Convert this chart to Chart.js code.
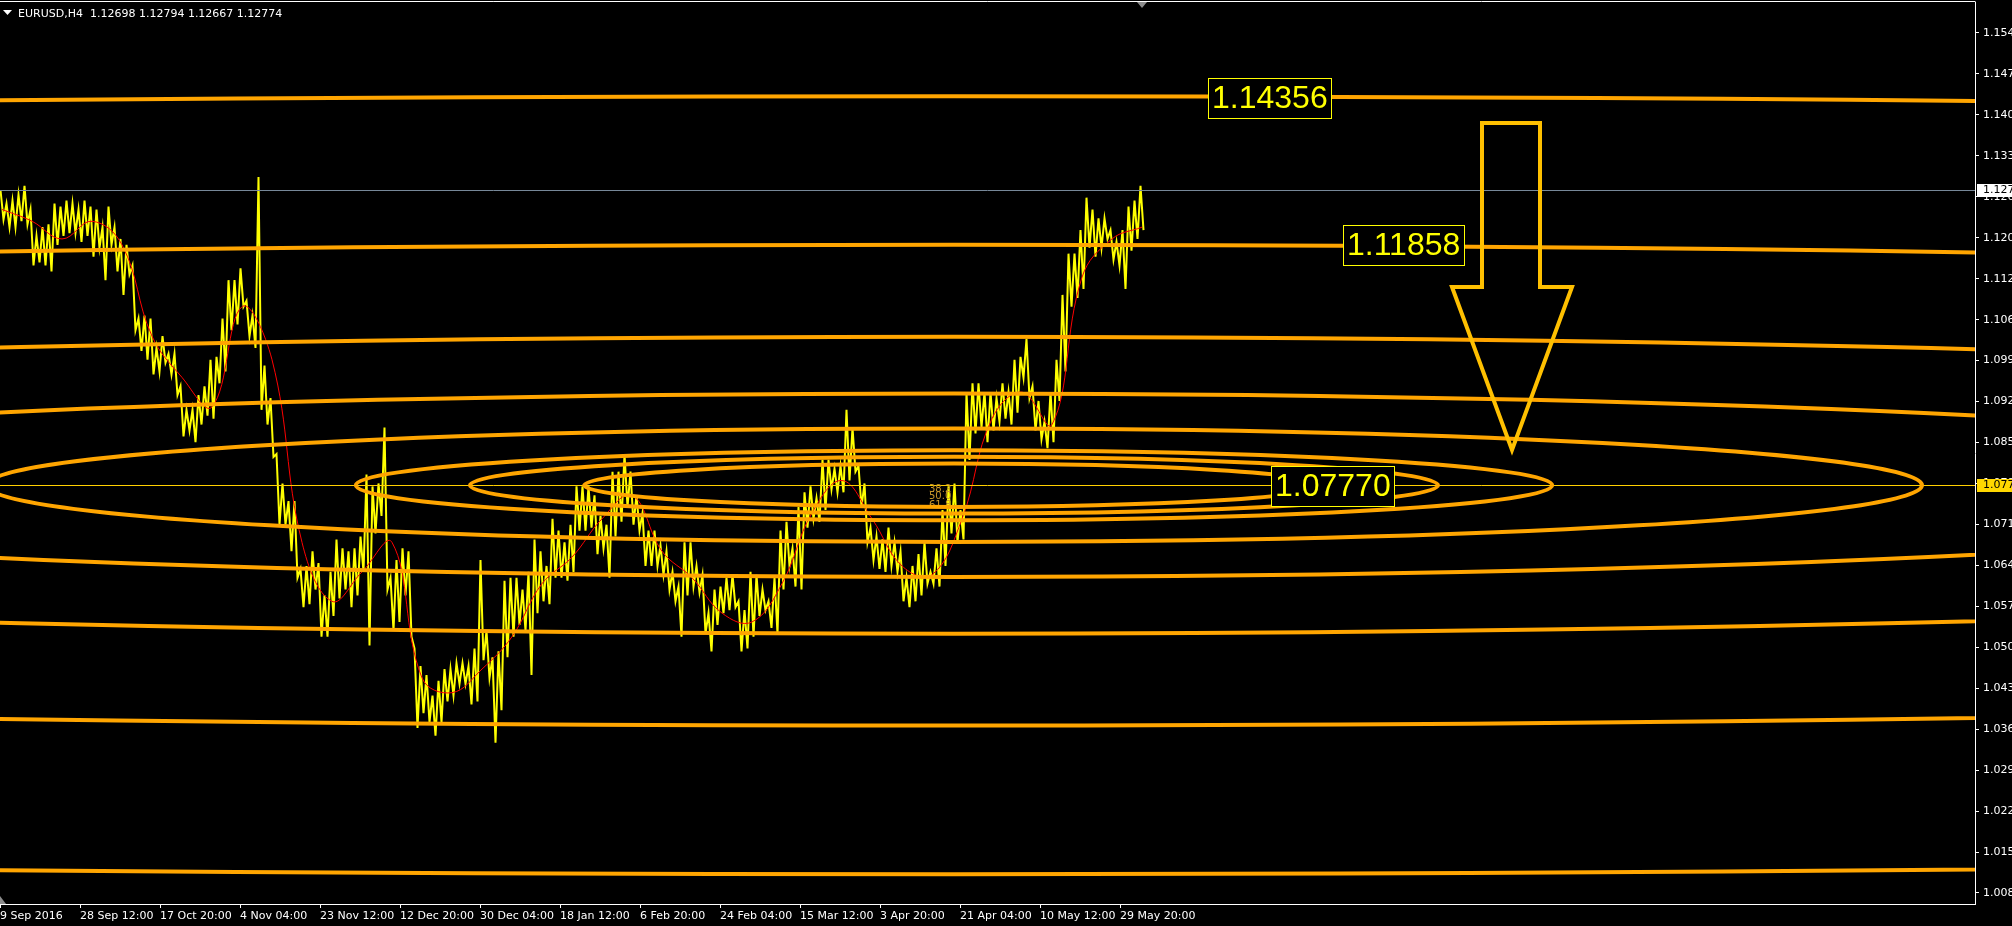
<!DOCTYPE html>
<html><head><meta charset="utf-8">
<script src="https://cdn.jsdelivr.net/npm/chart.js@4.4.0/dist/chart.umd.min.js"></script>
<style>html,body{margin:0;padding:0;background:#000;overflow:hidden}canvas{display:block}</style>
</head><body>
<canvas id="c" width="2012" height="926"></canvas>
<script>
// ---------- data ----------
const titleText = 'EURUSD,H4  1.12698 1.12794 1.12667 1.12774';
const barsPerDay = 6;
// daily high / low (9 Sep 2016 .. 2 Jun 2017), one H4 bar = one bar unit
const dayHigh = [
1.1278,1.1255,1.1260,1.1270,1.1285,1.1245,1.1200,1.1215,1.1220,1.1255,
1.1250,1.1260,1.1255,1.1245,1.1260,1.1250,1.1245,1.1215,1.1250,1.1215,
1.1195,1.1185,1.1150,1.1060,1.1065,1.1060,1.1010,1.1030,1.1000,1.1000,
1.0945,1.0905,1.0905,1.0930,1.0945,1.0990,1.0995,1.1060,1.1125,1.1125,
1.1145,1.1090,1.1065,1.1300,1.0980,1.0925,1.0830,1.0780,1.0750,1.0750,
1.0635,1.0640,1.0665,1.0645,1.0590,1.0630,1.0685,1.0670,1.0665,1.0670,
1.0690,1.0795,1.0775,1.0780,1.0875,1.0620,1.0650,1.0670,1.0665,1.0500,
1.0470,1.0455,1.0420,1.0445,1.0465,1.0465,1.0475,1.0475,1.0470,1.0500,
1.0650,1.0530,1.0485,1.0495,1.0615,1.0620,1.0620,1.0600,1.0630,1.0685,
1.0665,1.0640,1.0720,1.0700,1.0680,1.0710,1.0775,1.0775,1.0775,1.0760,
1.0725,1.0710,1.0800,1.0800,1.0830,1.0800,1.0760,1.0730,1.0700,1.0700,
1.0675,1.0665,1.0630,1.0605,1.0680,1.0680,1.0640,1.0625,1.0560,1.0600,
1.0605,1.0620,1.0625,1.0580,1.0565,1.0630,1.0625,1.0600,1.0580,1.0620,
1.0700,1.0715,1.0670,1.0740,1.0765,1.0775,1.0755,1.0820,1.0820,1.0805,
1.0810,1.0905,1.0875,1.0810,1.0780,1.0705,1.0690,1.0685,1.0705,1.0680,
1.0665,1.0620,1.0640,1.0660,1.0680,1.0630,1.0670,1.0735,1.0775,1.0780,
1.0735,1.0935,1.0950,1.0950,1.0935,1.0935,1.0925,1.0950,1.0935,1.0990,
1.0995,1.1025,1.0945,1.0920,1.0885,1.0935,1.0990,1.1100,1.1170,1.1170,
1.1210,1.1265,1.1245,1.1230,1.1230,1.1210,1.1190,1.1210,1.1250,1.1260,
1.1285];
const dayLow = [
1.1228,1.1215,1.1215,1.1225,1.1220,1.1150,1.1155,1.1150,1.1140,1.1185,
1.1200,1.1205,1.1205,1.1190,1.1200,1.1165,1.1180,1.1125,1.1185,1.1140,
1.1100,1.1135,1.1040,1.1005,1.0990,1.0965,1.0970,1.0985,1.0965,1.0930,
1.0860,1.0870,1.0850,1.0880,1.0895,1.0890,1.0950,1.0970,1.1040,1.1050,
1.1080,1.1030,1.1010,1.0905,1.0880,1.0825,1.0710,1.0710,1.0665,1.0620,
1.0570,1.0575,1.0600,1.0520,1.0520,1.0555,1.0585,1.0600,1.0570,1.0590,
1.0630,1.0505,1.0695,1.0725,1.0600,1.0530,1.0545,1.0590,1.0520,1.0365,
1.0390,1.0375,1.0352,1.0375,1.0410,1.0420,1.0440,1.0440,1.0405,1.0410,
1.0480,1.0450,1.0340,1.0395,1.0485,1.0520,1.0540,1.0530,1.0455,1.0560,
1.0580,1.0575,1.0620,1.0620,1.0615,1.0630,1.0700,1.0700,1.0705,1.0660,
1.0670,1.0620,1.0690,1.0715,1.0740,1.0710,1.0700,1.0640,1.0640,1.0640,
1.0625,1.0600,1.0580,1.0520,1.0590,1.0605,1.0595,1.0525,1.0495,1.0540,
1.0560,1.0565,1.0570,1.0495,1.0500,1.0520,1.0555,1.0565,1.0535,1.0525,
1.0600,1.0640,1.0605,1.0600,1.0705,1.0720,1.0715,1.0735,1.0770,1.0765,
1.0765,1.0785,1.0800,1.0740,1.0680,1.0650,1.0635,1.0630,1.0640,1.0630,
1.0580,1.0570,1.0580,1.0590,1.0610,1.0610,1.0605,1.0640,1.0695,1.0680,
1.0685,1.0820,1.0865,1.0875,1.0850,1.0870,1.0885,1.0890,1.0880,1.0900,
1.0960,1.0925,1.0870,1.0855,1.0840,1.0850,1.0920,1.0970,1.1080,1.1095,
1.1110,1.1180,1.1165,1.1180,1.1195,1.1160,1.1150,1.1110,1.1175,1.1195,
1.1210];
// red moving average, one value every 5 days
const maStepDays = 5;
const maValues = [1.1245,1.1225,1.1195,1.1225,1.1185,1.1030,1.0960,1.0910,1.1080,1.0990,
1.0680,1.0580,1.0630,1.0680,1.0450,1.0425,1.0465,1.0520,1.0610,1.0655,
1.0720,1.0760,1.0665,1.0620,1.0560,1.0545,1.0610,1.0730,1.0785,1.0720,
1.0640,1.0625,1.0720,1.0890,1.0935,1.0880,1.1130,1.1195,1.1215];

const xTickBars = [0,80,160,240,320,400,480,560,640,720,800,880,960,1040,1120];
const xTickLabels = ['9 Sep 2016','28 Sep 12:00','17 Oct 20:00','4 Nov 04:00','23 Nov 12:00','12 Dec 20:00',
  '30 Dec 04:00','18 Jan 12:00','6 Feb 20:00','24 Feb 04:00','15 Mar 12:00','3 Apr 20:00',
  '21 Apr 04:00','10 May 12:00','29 May 20:00'];
const yTickValues = [1.00850,1.01545,1.02240,1.02935,1.03630,1.04325,1.05020,1.05715,1.06410,1.07105,
  1.07800,1.08495,1.09190,1.09885,1.10580,1.11275,1.11970,1.12665,1.13360,1.14055,1.14750,1.15445];
const yTickLabels = ['1.008','1.015','1.022','1.029','1.036','1.043','1.050','1.057','1.064','1.071',
  '1.078','1.085','1.092','1.099','1.106','1.112','1.120','1.126','1.133','1.140','1.147','1.154'];
const yMin = 1.00663, yMax = 1.15971;
const xMaxBars = 1975;

const bidPrice = 1.12774;
const levelPrice = 1.07770;
const fibLevels = [0.382,0.5,0.618,1,1.618,2.618,4.236,6.854];
const fibTextLabels = ['38.2','50.0','61.8'];
const fibTextBar = 929;
const fibTextPrices = [1.07700,1.07575,1.07425];
const ellipseCenterBar = 954;
const ellipseBaseBars = 968;
const ellipseBasePrice = 0.00963;

const boxTexts = ['1.14356','1.11858','1.07770'];
const boxBars = [1208,1343,1271];
const boxPrices = [1.14356,1.11858,1.07770];

const arrowBars = [1482,1540,1540,1572,1512,1452,1482];
const arrowPrices = [1.13918,1.13918,1.11134,1.11134,1.08368,1.11134,1.11134];

const shiftMarkBar = 1142;

// ---------- build series ----------
const pricePoints = [];
dayHigh.forEach((h, d) => {
  pricePoints.push({x: d * barsPerDay + 0.5, y: h});
  pricePoints.push({x: d * barsPerDay + 3.5, y: dayLow[d]});
});
const maPoints = maValues.map((v, i) => ({x: i * maStepDays * barsPerDay + 2, y: v}));

const overlay = {
  id: 'overlay',
  beforeDraw(chart) {
    const c = chart.ctx;
    c.save(); c.fillStyle = '#000'; c.fillRect(0, 0, chart.width, chart.height); c.restore();
  },
  afterDatasetsDraw(chart) {
    const {ctx: c, chartArea: a, scales: {x, y}} = chart;
    c.save();
    c.beginPath(); c.rect(a.left, a.top, a.right - a.left, a.bottom - a.top); c.clip();
    // bid line
    const yb = Math.round(y.getPixelForValue(bidPrice)) + 0.5;
    c.strokeStyle = '#778899'; c.lineWidth = 1;
    c.beginPath(); c.moveTo(a.left, yb); c.lineTo(a.right, yb); c.stroke();
    // level line
    const yl = Math.round(y.getPixelForValue(levelPrice)) + 0.5;
    c.strokeStyle = '#FFD000';
    c.beginPath(); c.moveTo(a.left, yl); c.lineTo(a.right, yl); c.stroke();
    // fib texts
    c.font = '10px "DejaVu Sans"'; c.fillStyle = '#C8962A'; c.textBaseline = 'middle'; c.textAlign = 'left';
    fibTextLabels.forEach((t, i) => c.fillText(t, x.getPixelForValue(fibTextBar), y.getPixelForValue(fibTextPrices[i])));
    // ellipses
    const cx = x.getPixelForValue(ellipseCenterBar), cy = y.getPixelForValue(levelPrice);
    c.strokeStyle = '#FFA500'; c.lineWidth = 4;
    fibLevels.forEach(l => {
      const rx = x.getPixelForValue(ellipseCenterBar + l * ellipseBaseBars) - cx;
      const ry = cy - y.getPixelForValue(levelPrice + l * ellipseBasePrice);
      c.beginPath(); c.ellipse(cx, cy, rx, ry, 0, 0, Math.PI * 2); c.stroke();
    });
    // arrow
    c.strokeStyle = '#FFC000'; c.lineWidth = 4; c.lineJoin = 'miter';
    c.beginPath();
    arrowBars.forEach((b, i) => {
      const px = x.getPixelForValue(b), py = y.getPixelForValue(arrowPrices[i]);
      if (i === 0) c.moveTo(px, py); else c.lineTo(px, py);
    });
    c.closePath(); c.stroke();
    // price label boxes
    c.font = '32px "Liberation Sans"'; c.textBaseline = 'middle'; c.textAlign = 'left';
    boxTexts.forEach((t, i) => {
      const px = Math.round(x.getPixelForValue(boxBars[i])), py = Math.round(y.getPixelForValue(boxPrices[i]));
      const w = Math.ceil(c.measureText(t).width) + 7;
      c.fillStyle = '#000'; c.fillRect(px, py - 19, w, 40);
      c.strokeStyle = '#FFFF00'; c.lineWidth = 1; c.strokeRect(px + 0.5, py - 18.5, w, 40);
      c.fillStyle = '#FFFF00'; c.fillText(t, px + 4, py + 2);
    });
    c.restore();
  },
  afterDraw(chart) {
    const {ctx: c, chartArea: a, scales: {x, y}} = chart;
    c.save();
    // top frame line
    c.strokeStyle = '#FFFFFF'; c.lineWidth = 1;
    c.beginPath(); c.moveTo(0, a.top - 0.5); c.lineTo(a.right + 0.5, a.top - 0.5); c.stroke();
    // axis price boxes
    c.font = '11px "DejaVu Sans"'; c.textBaseline = 'middle'; c.textAlign = 'left';
    const boxes = [[bidPrice, '#FFFFFF'], [levelPrice, '#FFD700']];
    boxes.forEach(([p, col]) => {
      const py = Math.round(y.getPixelForValue(p));
      c.fillStyle = col; c.fillRect(a.right + 2, py - 6, chart.width - a.right, 13);
      c.fillStyle = '#000'; c.fillText(p.toFixed(5), a.right + 8, py + 0.5);
    });
    // header
    c.fillStyle = '#FFFFFF';
    c.beginPath(); c.moveTo(3, 10); c.lineTo(12, 10); c.lineTo(7.5, 15); c.closePath(); c.fill();
    c.textBaseline = 'alphabetic';
    c.fillText(titleText, 18, 17);
    // shift marker
    const sx = x.getPixelForValue(shiftMarkBar);
    c.fillStyle = '#8C8C8C';
    c.beginPath(); c.moveTo(sx - 5, a.top); c.lineTo(sx + 5, a.top); c.lineTo(sx, a.top + 6); c.closePath(); c.fill();
    c.beginPath(); c.moveTo(0, a.bottom - 8); c.lineTo(6, a.bottom); c.lineTo(0, a.bottom); c.closePath(); c.fill();
    c.restore();
  }
};

new Chart(document.getElementById('c'), {
  type: 'line',
  data: {
    datasets: [
      {label: 'MA', data: maPoints, borderColor: '#FF0000', borderWidth: 1, pointRadius: 0, tension: 0.4, fill: false},
      {label: 'EURUSD', data: pricePoints, borderColor: '#FFFF00', borderWidth: 2, pointRadius: 0, tension: 0, fill: false}
    ]
  },
  options: {
    responsive: false, animation: false, devicePixelRatio: 1,
    layout: {padding: {top: 2, left: 0, right: 0, bottom: 0}},
    plugins: {legend: {display: false}, tooltip: {enabled: false}},
    scales: {
      x: {
        type: 'linear', position: 'bottom', min: 0, max: xMaxBars,
        afterBuildTicks: s => { s.ticks = xTickBars.map(v => ({value: v})); },
        afterFit: s => { s.height = 22; s.paddingLeft = 0; s.paddingRight = 0; },
        ticks: {autoSkip: false, maxRotation: 0, minRotation: 0, align: 'start', color: '#FFFFFF', padding: 2,
          font: {family: 'DejaVu Sans', size: 11}, callback: (v, i) => xTickLabels[i]},
        grid: {drawOnChartArea: false, drawTicks: true, tickLength: 4, color: '#FFFFFF'},
        border: {display: true, color: '#FFFFFF', width: 1}
      },
      y: {
        type: 'linear', position: 'right', min: yMin, max: yMax,
        afterBuildTicks: s => { s.ticks = yTickValues.map(v => ({value: v})); },
        afterFit: s => { s.width = 37; s.paddingTop = 0; s.paddingBottom = 0; },
        ticks: {color: '#FFFFFF', padding: 4, font: {family: 'DejaVu Sans', size: 11}, callback: (v, i) => yTickLabels[i]},
        grid: {drawOnChartArea: false, drawTicks: true, tickLength: 4, color: '#FFFFFF'},
        border: {display: true, color: '#FFFFFF', width: 1}
      }
    }
  },
  plugins: [overlay]
});
</script>
</body></html>
